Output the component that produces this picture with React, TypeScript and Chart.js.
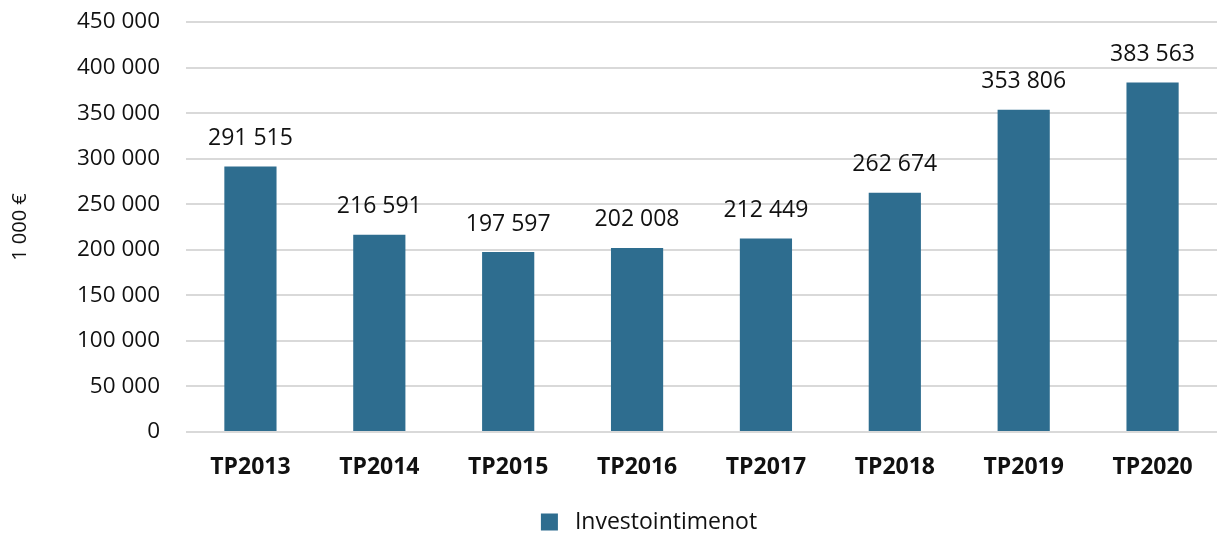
import React, { useEffect, useRef } from "react";
import { Chart, registerables } from "chart.js";

Chart.register(...registerables);

const categories = ["TP2013", "TP2014", "TP2015", "TP2016", "TP2017", "TP2018", "TP2019", "TP2020"];
const investointimenot = [291515, 216591, 197597, 202008, 212449, 262674, 353806, 383563];
const seriesLabel = "Investointimenot";
const yTitle = "1 000 €";

const FONT = "'Open Sans', 'Noto Sans', sans-serif";
const BAR = "#2e6d8f";
const TEXT = "#111111";

const fmt = (v: number) => String(Math.round(v)).replace(/\B(?=(\d{3})+(?!\d))/g, " ");

const labelPlugin = {
  id: "valueLabels",
  afterDatasetsDraw(chart: any) {
    const ctx = chart.ctx;
    const meta = chart.getDatasetMeta(0);
    ctx.save();
    ctx.font = `23px ${FONT}`;
    ctx.fillStyle = TEXT;
    ctx.textAlign = "center";
    ctx.textBaseline = "middle";
    meta.data.forEach((el: any, i: number) => {
      ctx.fillText(fmt(chart.data.datasets[0].data[i]), el.x, el.y - 28);
    });
    ctx.restore();
  },
};

// Legend drawn below the axis, using the dataset's own label and colour
const legendPlugin = {
  id: "customLegend",
  afterDraw(chart: any) {
    const ctx = chart.ctx;
    const ds = chart.data.datasets[0];
    ctx.save();
    ctx.font = `23px ${FONT}`;
    const textW = ctx.measureText(ds.label).width;
    const box = 17;
    const gap = 17;
    const total = box + gap + textW;
    const cx = 649;
    const cy = 522;
    const x0 = cx - total / 2;
    ctx.fillStyle = ds.backgroundColor;
    ctx.fillRect(x0, cy - box / 2, box, box);
    ctx.fillStyle = TEXT;
    ctx.textAlign = "left";
    ctx.textBaseline = "middle";
    ctx.fillText(ds.label, x0 + box + gap, cy);
    ctx.restore();
  },
};

export default function App() {
  const ref = useRef<HTMLCanvasElement>(null);
  useEffect(() => {
    document.body.style.margin = "0";
    const chart = new Chart(ref.current!, {
      type: "bar",
      data: {
        labels: categories,
        datasets: [
          {
            label: seriesLabel,
            data: investointimenot,
            backgroundColor: BAR,
            borderWidth: 0,
            categoryPercentage: 1,
            barPercentage: 0.405,
          },
        ],
      },
      options: {
        animation: false,
        responsive: false,
        maintainAspectRatio: false,
        layout: { padding: { top: 22, right: 0, bottom: 0, left: 0 } },
        plugins: {
          tooltip: { enabled: false },
          legend: { display: false },
        },
        scales: {
          x: {
            grid: { display: false },
            border: { display: false },
            ticks: {
              font: { family: FONT, size: 23, weight: "bold" },
              color: TEXT,
              padding: 14,
            },
            afterFit(scale: any) {
              scale.height = 101;
            },
          },
          y: {
            min: 0,
            max: 450000,
            ticks: {
              stepSize: 50000,
              font: { family: FONT, size: 22.5 },
              color: TEXT,
              padding: 26,
              callback: (v: any) => fmt(Number(v)),
            },
            grid: { color: "#d9d9d9", lineWidth: 2, drawTicks: false },
            border: { display: false },
            title: {
              display: true,
              text: yTitle,
              font: { family: FONT, size: 20 },
              color: TEXT,
              padding: { top: 8, bottom: 6 },
            },
            afterFit(scale: any) {
              scale.width = 186;
              scale.paddingTop = 0;
              scale.paddingBottom = 0;
            },
          },
        },
      },
      plugins: [labelPlugin, legendPlugin],
    });
    return () => chart.destroy();
  }, []);
  return (
    <div style={{ width: 1217, height: 533 }}>
      <canvas ref={ref} width={1217} height={533} style={{ display: "block" }} />
    </div>
  );
}
